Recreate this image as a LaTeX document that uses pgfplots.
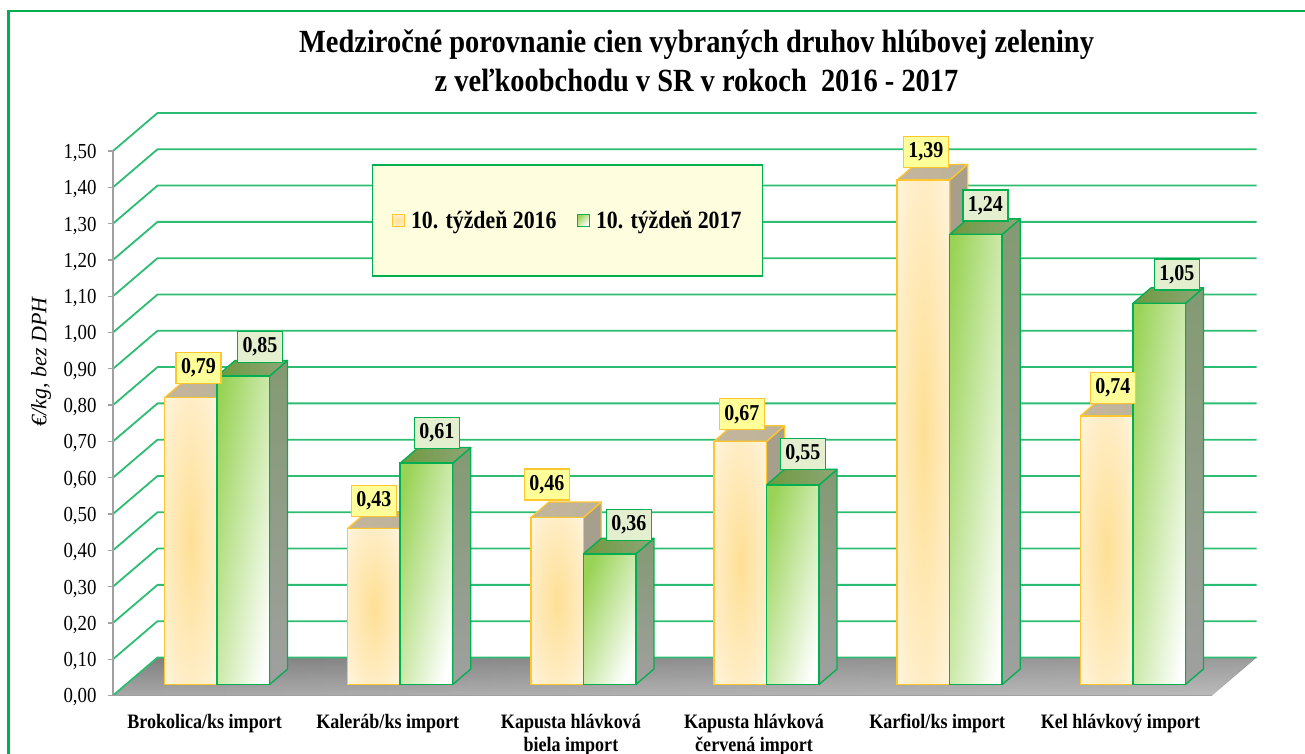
\documentclass[border=0pt]{standalone}
\usepackage{fontspec}
\setmainfont{Liberation Serif}[FakeStretch=0.88]
\newfontfamily\osfont{Liberation Serif}
\usepackage{pgfplots}
\usepackage{pgfplotstable}
\pgfplotsset{compat=1.18}
\usetikzlibrary{fadings}
\definecolor{zelena}{HTML}{00B050}
\definecolor{mriezka}{HTML}{2CBD72}
\definecolor{oranz}{HTML}{FFC62E}
\definecolor{siva}{HTML}{A0A0A0}
\definecolor{predokO}{HTML}{FEDF94}
\definecolor{stredO}{HTML}{FFEDC6}
\definecolor{okrajO}{HTML}{FFF5DF}
\definecolor{predokZ}{HTML}{99D356}
\definecolor{bokO}{HTML}{A89F8A}
\definecolor{bokZ}{HTML}{839A72}
\definecolor{vrchOa}{HTML}{C4B69B}
\definecolor{vrchOb}{HTML}{BDB29A}
\definecolor{vrchZa}{HTML}{6E9A3E}
\definecolor{vrchZb}{HTML}{8EA678}
\definecolor{legenda}{HTML}{FEFEDF}
\definecolor{stitokO}{HTML}{FFFF99}
\definecolor{stitokZ}{HTML}{E4EFD0}
\pgfdeclareradialshading{oranzS}{\pgfpointorigin}{color(0bp)=(predokO); color(25bp)=(stredO); color(36bp)=(okrajO); color(50bp)=(okrajO)}

% cat: category, dx/dy: label offset from the bar in px
\pgfplotstableread{
cat y16  dx16  dy16 y17  dx17 dy17
0   0.79 -6.1  29.7 0.85 55.4 29
1   0.43 -13.8 27.5 0.61 49.2 30
2   0.46 -24   33   0.36 58   29
3   0.67 -12.2 27   0.55 48.8 31
4   1.39 -11.4 27.7 1.24 48.1 29
5   0.74 -7.6  28   1.05 56.4 29
}\ceny

\tikzset{
  predok16/.style={shading=oranzS},
  predok17/.style={top color=predokZ,bottom color=white,shading angle=#1},
  bok16/.style={top color=bokO,bottom color=siva},
  bok17/.style={top color=bokZ,bottom color=siva},
  vrch16/.style={left color=vrchOa,right color=vrchOb},
  vrch17/.style={left color=vrchZa,right color=vrchZb},
}

% depth of a bar in data units
\def\hx{0.09825}
\def\hy{0.0427}
\def\hw{0.28657}

% one 3D bar: category, value, bar shift, edge colour, series, shift of the right edge
\newcommand{\kvader}[6]{%
  \pgfmathsetmacro\xa{#1-\hw}
  \pgfmathsetmacro\xb{#1+\hx}
  \pgfmathsetmacro\xc{#1-\hw+\hx}
  \pgfmathsetmacro\yt{#2+\hy}
  \pgfmathsetmacro\ang{atan(#2*363.3/52.5)}
  \addplot[draw=#4,line width=1.3pt,line join=round,bok#5,xshift=#6pt,yshift=11pt]
    coordinates {(#1,0) (\xb,\hy) (\xb,\yt) (#1,#2)} --cycle;
  \addplot[draw=#4,line width=1.3pt,line join=round,vrch#5,xshift=#6pt,yshift=11pt]
    coordinates {(\xa,#2) (\xc,\yt) (\xb,\yt) (#1,#2)} --cycle;
  % the angle has to be fixed now, the options are read only when the plot is drawn
  \edef\kresli{\noexpand\addplot[ybar,bar width=52.5pt,bar shift=#3pt,yshift=11pt,draw=#4,line width=1.5pt,predok#5=\ang]
    coordinates {(#1,#2)};}
  \kresli
}

\begin{document}
\begin{tikzpicture}[x=1pt,y=1pt]
  \path[use as bounding box] (-113,-58.5) rectangle (1192,695.5);
  % outer frame
  \draw[zelena,line width=2.5pt] (1192,684.5) -- (-104.5,684.5) -- (-104.5,-58.5);
  % floor
  \path[top color=black!50,bottom color=black!34] (0,0) -- (44.5,38) -- (1143.5,38) -- (1099,0) -- cycle;
  \fill[white,opacity=.22,path fading=west] (0,0) -- (44.5,38) -- (1143.5,38) -- (1099,0) -- cycle;
  % side and back wall
  \foreach \k in {0,...,15}{
    \pgfmathsetmacro\yy{36.3*\k}
    \draw[mriezka,line width=1.8pt,line join=round] (0,\yy) -- (44.5,\yy+38) -- (1143.5,\yy+38);
  }
  \begin{axis}[
    at={(0,0)},anchor=south west,
    scale only axis,width=1099pt,height=544.5pt,
    xmin=-0.5,xmax=5.5,ymin=0,ymax=1.5,
    clip=false,
    axis x line*=bottom,axis y line*=left,
    axis line style={draw=siva,line width=1.6pt,-},
    xtick={0,...,5},
    xticklabels={Brokolica/ks import,Kaleráb/ks import,{Kapusta hlávková\\biela import},{Kapusta hlávková\\červená import},Karfiol/ks import,Kel hlávkový import},
    x tick style={draw=none},
    xticklabel style={font=\fontsize{20.5}{23}\selectfont\bfseries,align=center,anchor=north,yshift=-10pt},
    ytick distance=0.1,
    y tick style={draw=siva,line width=1.3pt},
    tick align=outside,
    major tick length=5pt,
    yticklabel style={font=\fontsize{21.4}{20}\selectfont,xshift=-8pt,yshift=-2pt},
    /pgf/number format/.cd,assume math mode=true,fixed,fixed zerofill,precision=2,use comma,1000 sep={},
    /pgfplots/.cd,
    ylabel={\osfont\fontsize{22}{22}\selectfont\itshape €/kg, bez DPH},
    ylabel style={at={(axis description cs:-0.0655,0.6125)},anchor=center},
    title={Medziročné porovnanie cien vybraných druhov hlúbovej zeleniny\\z veľkoobchodu v SR v rokoch\ \ 2016 - 2017},
    title style={at={(axis description cs:0.531,1.155)},anchor=center,align=center,
      font=\fontsize{32.3}{39}\selectfont\bfseries},
    legend columns=2,
    legend cell align=left,
    legend style={at={(axis description cs:0.4136,0.8725)},anchor=center,
      draw=zelena,line width=1.6pt,fill=legenda,
      inner xsep=19pt,inner ysep=44pt,
      font=\fontsize{24.8}{25}\selectfont\bfseries,
      /tikz/every even column/.append style={column sep=18pt}},
  ]
    \addlegendimage{legend image code/.code={\draw[draw=oranz,line width=1.3pt,predok16] (0pt,-6pt) rectangle (12pt,6pt); \path (16pt,0pt);}}
    \addlegendentry{10. týždeň 2016}
    \addlegendimage{legend image code/.code={\draw[draw=zelena,line width=1.3pt,predok17=45] (0pt,-6pt) rectangle (12pt,6pt); \path (16pt,0pt);}}
    \addlegendentry{10. týždeň 2017}
    % bars, one by one so that each has its own shading
    \pgfplotsinvokeforeach{0,...,5}{
      \pgfplotstablegetelem{#1}{y16}\of\ceny
      \edef\hodn{\pgfplotsretval}
      \kvader{#1}{\hodn}{-13.85}{oranz}{16}{12.4}
      \pgfplotstablegetelem{#1}{y17}\of\ceny
      \edef\hodn{\pgfplotsretval}
      \kvader{#1}{\hodn}{38.65}{zelena}{17}{65}
    }
    % value labels on top of everything
    \addplot[only marks,mark=none,
      visualization depends on={\thisrow{dx16}\as\posx},
      visualization depends on={\thisrow{dy16}+11\as\posy},
      nodes near coords,
      nodes near coords style={anchor=center,xshift=\posx pt,yshift=\posy pt,
        draw=oranz,line width=1.4pt,fill=stitokO,
        minimum width=45pt,minimum height=31pt,inner sep=0pt,
        font=\fontsize{22.7}{23}\selectfont\bfseries,text=black}]
      table[x=cat,y=y16] {\ceny};
    \addplot[only marks,mark=none,
      visualization depends on={\thisrow{dx17}\as\posx},
      visualization depends on={\thisrow{dy17}+11\as\posy},
      nodes near coords,
      nodes near coords style={anchor=center,xshift=\posx pt,yshift=\posy pt,
        draw=zelena,line width=1.4pt,fill=stitokZ,
        minimum width=45pt,minimum height=31pt,inner sep=0pt,
        font=\fontsize{22.7}{23}\selectfont\bfseries,text=black}]
      table[x=cat,y=y17] {\ceny};
  \end{axis}
\end{tikzpicture}
\end{document}
